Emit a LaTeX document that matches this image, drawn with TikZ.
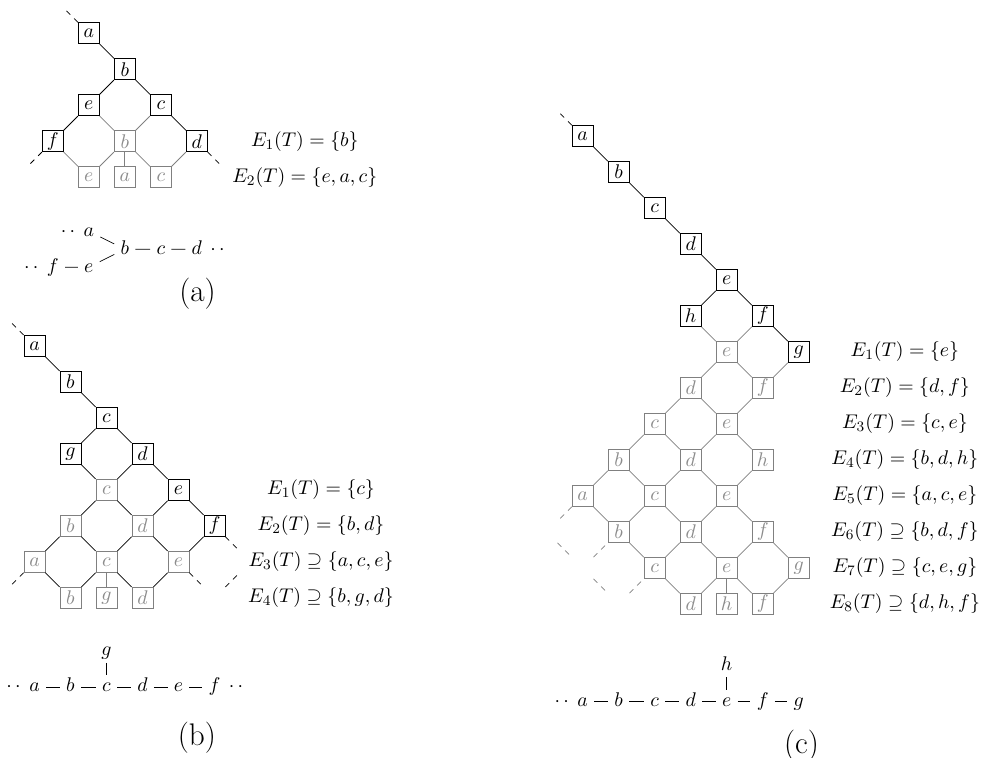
\documentclass[tikz,border=0pt]{standalone}
\usepackage{tikz}
\usetikzlibrary{positioning}

\begin{document}
\begin{tikzpicture}[
        x=0.7cm, y=0.7cm,
        every node/.style={font=\fontsize{11}{13}\selectfont},
        box/.style={draw, thin, minimum size=11.6pt, inner sep=0pt},
        black box/.style={box, draw=black, text=black},
        gray box/.style={box, draw=black!50, text=black!45},
        hidden box/.style={box, draw=none},
        dark edge/.style={thin, black},
        light edge/.style={thin, black!50},
        stem edge/.style={semithick, black!50},
        open edge/.style={thin, dashed},
        chain label/.style={inner xsep=3.3pt, inner ysep=2.5pt, text height=1.5ex, text depth=.25ex},
        chain dots/.style={chain label, inner xsep=1pt},
        set label/.style={align=center},
        panel label/.style={font=\LARGE},
    ]

    \useasboundingbox (0,0) rectangle (27.306,-21.056);

    % ---------------- (a) ----------------
    \begin{scope}[shift={(1.467,-0.922)}]
        % Boxes
        \node[black box] (Aa0) at (1,0) {$a$};
        \node[black box] (Ab1) at (2,-1) {$b$};
        \node[black box] (Ae2) at (1,-2) {$e$};
        \node[black box] (Ac2) at (3,-2) {$c$};
        \node[black box] (Af3) at (0,-3) {$f$};
        \node[black box] (Ad3) at (4,-3) {$d$};
        \node[gray box] (Ab3) at (2,-3) {$b$};
        \node[gray box] (Ae4) at (1,-4) {$e$};
        \node[gray box] (Aa4) at (2,-4) {$a$};
        \node[gray box] (Ac4) at (3,-4) {$c$};
        \node[hidden box] (Ax) at (-0,1) {};
        \node[hidden box] (Ay) at (-1,-4) {};
        \node[hidden box] (Az) at (5,-4) {};

        % Edges
        \draw[dark edge] (Aa0) -- (Ab1) (Ab1) -- (Ae2) (Ab1) -- (Ac2) (Ae2) -- (Af3) (Ac2) -- (Ad3);
        \draw[light edge] (Ae2) -- (Ab3) (Ac2) -- (Ab3) (Af3) -- (Ae4) (Ab3) -- (Ae4) (Ab3) -- (Ac4) (Ad3) -- (Ac4);
        \draw[stem edge] (Ab3) -- (Aa4);
        \draw[open edge] (Aa0) -- (Ax) (Af3) -- (Ay) (Ad3) -- (Az);

        % Sets
        \node[set label] (AE1) at (7,-3) {$E_1(T) = \{b\}$};
        \node[set label] (AE2) at (7,-4) {$E_2(T) = \{e, a, c\}$};

        % Chain
        \node[chain label] (AKa) at (1,-5.5) {$a$};
        \node[chain label] (AKe) at (1,-6.5) {$e$};
        \node[chain label] (AKf) at (0,-6.5) {$f$};
        \node[chain label] (AKb) at (2,-6) {$b$};
        \node[chain label] (AKc) at (3,-6) {$c$};
        \node[chain label] (AKd) at (4,-6) {$d$};
        \node[chain dots, left=0pt of AKa] (AKaL) {$\cdot\,\cdot$};
        \node[chain dots, left=0pt of AKf] (AKfL) {$\cdot\,\cdot$};
        \node[chain dots, right=0pt of AKd] (AKdR) {$\cdot\,\cdot$};
        \draw (AKa) -- (AKb) (AKe) -- (AKb) (AKf) -- (AKe) (AKb) -- (AKc) (AKc) -- (AKd);

        \node[panel label] (Acap) at (4.02,-7.25) {(a)};
    \end{scope}

    % ---------------- (b) ----------------
    \begin{scope}[shift={(0.958,-9.606)}]
        % Boxes
        \node[black box] (Ba0) at (0,0) {$a$};
        \node[black box] (Bb1) at (1,-1) {$b$};
        \node[black box] (Bc2) at (2,-2) {$c$};
        \node[black box] (Bg3) at (1,-3) {$g$};
        \node[black box] (Bd3) at (3,-3) {$d$};
        \node[gray box] (Bc4) at (2,-4) {$c$};
        \node[black box] (Be4) at (4,-4) {$e$};
        \node[gray box] (Bb5) at (1,-5) {$b$};
        \node[gray box] (Bd5) at (3,-5) {$d$};
        \node[black box] (Bf5) at (5,-5) {$f$};
        \node[gray box] (Ba6) at (0,-6) {$a$};
        \node[gray box] (Bc6) at (2,-6) {$c$};
        \node[gray box] (Be6) at (4,-6) {$e$};
        \node[gray box] (Bb7) at (1,-7) {$b$};
        \node[gray box] (Bg7) at (2,-7) {$g$};
        \node[gray box] (Bd7) at (3,-7) {$d$};
        \node[hidden box] (Bx) at (-1,1) {};
        \node[hidden box] (By) at (-1,-7) {};
        \node[hidden box] (Bz1) at (6,-6) {};
        \node[hidden box] (Bz2) at (5,-7) {};

        % Edges
        \draw[dark edge] (Ba0) -- (Bb1) (Bb1) -- (Bc2) (Bc2) -- (Bg3) (Bc2) -- (Bd3)
            (Bg3) -- (Bc4) (Bd3) -- (Bc4) (Bd3) -- (Be4) (Be4) -- (Bd5) (Be4) -- (Bf5)
            (Bc4) -- (Bb5) (Bc4) -- (Bd5) (Bb5) -- (Ba6) (Bb5) -- (Bc6) (Bd5) -- (Bc6)
            (Bd5) -- (Be6) (Bf5) -- (Be6) (Ba6) -- (Bb7) (Bc6) -- (Bb7) (Bc6) -- (Bd7) (Be6) -- (Bd7);
        \draw[stem edge] (Bc6) -- (Bg7);
        \draw[open edge] (Ba0) -- (Bx) (Ba6) -- (By) (Bf5) -- (Bz1) (Be6) -- (Bz2) (Bz2) -- (Bz1);

        % Sets
        \node[set label] (BE1) at (7.96,-4) {$E_1(T) = \{c\}$};
        \node[set label] (BE2) at (7.96,-5) {$E_2(T) = \{b, d\}$};
        \node[set label] (BE3) at (7.96,-6) {$E_3(T) \supseteq \{a, c, e\}$};
        \node[set label] (BE4) at (7.96,-7) {$E_4(T) \supseteq \{b, g, d\}$};

        % Chain
        \foreach \l [count=\i from 0] in {a,b,c,d,e,f}
            \node[chain label] (BK\l) at (\i,-9.48) {$\l$};
        \node[chain label] (BKg) at (2,-8.48) {$g$};
        \node[chain dots, left=0pt of BKa] (BKaL) {$\cdot\,\cdot$};
        \node[chain dots, right=0pt of BKf] (BKfR) {$\cdot\,\cdot$};
        \draw (BKa) -- (BKb) (BKb) -- (BKc) (BKc) -- (BKd) (BKd) -- (BKe) (BKe) -- (BKf) (BKg) -- (BKc);

        \node[panel label] (Bcap) at (4.51,-10.89) {(b)};
    \end{scope}

    % ---------------- (c) ----------------
    \begin{scope}[shift={(16.186,-3.778)}]
        % Boxes, black part
        \node[black box] (Ca0) at (0,0) {$a$};
        \node[black box] (Cb1) at (1,-1) {$b$};
        \node[black box] (Cc2) at (2,-2) {$c$};
        \node[black box] (Cd3) at (3,-3) {$d$};
        \node[black box] (Ce4) at (4,-4) {$e$};
        \node[black box] (Ch5) at (3,-5) {$h$};
        \node[black box] (Cf5) at (5,-5) {$f$};
        \node[black box] (Cg6) at (6,-6) {$g$};
        % Boxes, gray part
        \node[gray box] (Ce6) at (4,-6) {$e$};
        \node[gray box] (Cd7) at (3,-7) {$d$};
        \node[gray box] (Cf7) at (5,-7) {$f$};
        \node[gray box] (Cc8) at (2,-8) {$c$};
        \node[gray box] (Ce8) at (4,-8) {$e$};
        \node[gray box] (Cb9) at (1,-9) {$b$};
        \node[gray box] (Cd9) at (3,-9) {$d$};
        \node[gray box] (Ch9) at (5,-9) {$h$};
        \node[gray box] (Ca10) at (0,-10) {$a$};
        \node[gray box] (Cc10) at (2,-10) {$c$};
        \node[gray box] (Ce10) at (4,-10) {$e$};
        \node[gray box] (Cb11) at (1,-11) {$b$};
        \node[gray box] (Cd11) at (3,-11) {$d$};
        \node[gray box] (Cf11) at (5,-11) {$f$};
        \node[gray box] (Cc12) at (2,-12) {$c$};
        \node[gray box] (Ce12) at (4,-12) {$e$};
        \node[gray box] (Cg12) at (6,-12) {$g$};
        \node[gray box] (Cd13) at (3,-13) {$d$};
        \node[gray box] (Ch13) at (4,-13) {$h$};
        \node[gray box] (Cf13) at (5,-13) {$f$};
        \node[hidden box] (Cx) at (-1,1) {};
        \node[hidden box] (Cv1) at (-1,-11) {};
        \node[hidden box] (Cv2) at (0,-12) {};
        \node[hidden box] (Cv3) at (1,-13) {};

        % Edges
        \draw[dark edge] (Ca0) -- (Cb1) (Cb1) -- (Cc2) (Cc2) -- (Cd3) (Cd3) -- (Ce4)
            (Ce4) -- (Ch5) (Ce4) -- (Cf5) (Cf5) -- (Cg6);
        \draw[light edge] (Ch5) -- (Ce6) (Cf5) -- (Ce6) (Cg6) -- (Cf7)
            (Ce6) -- (Cd7) (Ce6) -- (Cf7) (Cd7) -- (Cc8) (Cd7) -- (Ce8) (Cf7) -- (Ce8)
            (Cc8) -- (Cb9) (Cc8) -- (Cd9) (Ce8) -- (Cd9) (Ce8) -- (Ch9)
            (Cb9) -- (Ca10) (Cb9) -- (Cc10) (Cd9) -- (Cc10) (Cd9) -- (Ce10) (Ch9) -- (Ce10)
            (Ca10) -- (Cb11) (Cc10) -- (Cb11) (Cc10) -- (Cd11) (Ce10) -- (Cd11) (Ce10) -- (Cf11)
            (Cb11) -- (Cc12) (Cd11) -- (Cc12) (Cd11) -- (Ce12) (Cf11) -- (Ce12) (Cf11) -- (Cg12)
            (Cc12) -- (Cd13) (Ce12) -- (Cd13) (Ce12) -- (Cf13) (Cg12) -- (Cf13);
        \draw[stem edge] (Ce12) -- (Ch13);
        \draw[open edge] (Ca0) -- (Cx);
        \draw[open edge, black!50] (Ca10) -- (Cv1) (Cv1) -- (Cv2) (Cv2) -- (Cb11) (Cv2) -- (Cv3) (Cv3) -- (Cc12);

        % Sets
        \node[set label] (CE1) at (8.95,-6) {$E_1(T) = \{e\}$};
        \node[set label] (CE2) at (8.95,-7) {$E_2(T) = \{d, f\}$};
        \node[set label] (CE3) at (8.95,-8) {$E_3(T) = \{c, e\}$};
        \node[set label] (CE4) at (8.95,-9) {$E_4(T) = \{b, d, h\}$};
        \node[set label] (CE5) at (8.95,-10) {$E_5(T) = \{a, c, e\}$};
        \node[set label] (CE6) at (8.95,-11) {$E_6(T) \supseteq \{b, d, f\}$};
        \node[set label] (CE7) at (8.95,-12) {$E_7(T) \supseteq \{c, e, g\}$};
        \node[set label] (CE8) at (8.95,-13) {$E_8(T) \supseteq \{d, h, f\}$};

        % Chain
        \foreach \l [count=\i from 0] in {a,b,c,d,e,f,g}
            \node[chain label] (CK\l) at (\i,-15.71) {$\l$};
        \node[chain label] (CKh) at (4,-14.71) {$h$};
        \node[chain dots, left=0pt of CKa] (CKaL) {$\cdot\,\cdot$};
        \draw (CKa) -- (CKb) (CKb) -- (CKc) (CKc) -- (CKd) (CKd) -- (CKe) (CKe) -- (CKf) (CKf) -- (CKg) (CKh) -- (CKe);

        \node[panel label] (Ccap) at (6.08,-16.94) {(c)};
    \end{scope}

\end{tikzpicture}
\end{document}
